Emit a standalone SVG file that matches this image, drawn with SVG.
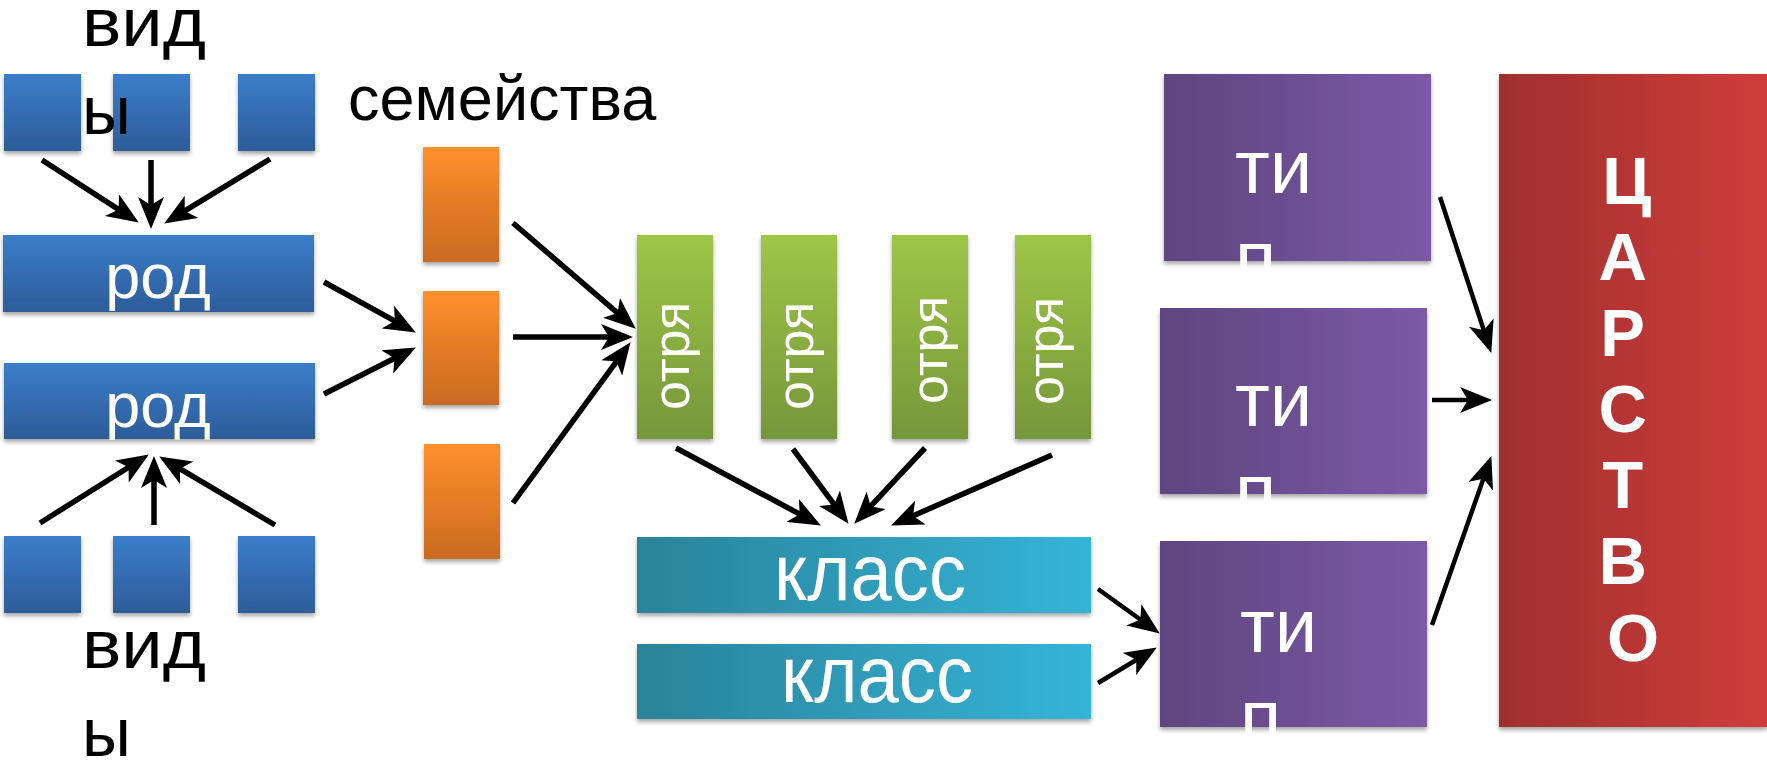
<svg xmlns="http://www.w3.org/2000/svg" width="1767" height="764" viewBox="0 0 1767 764">
<style>
.lbl{font-family:"Liberation Sans",Arial,sans-serif;fill:#000}
.wt{font-family:"Liberation Sans",Arial,sans-serif;fill:#fff}
.bold{font-weight:bold}
.conn line{stroke:#000;stroke-width:5.5;marker-end:url(#ah)}
.conn line.thin{stroke-width:4.5}
.box{filter:url(#sh)}
</style>
<defs>
<filter id="sh" x="-10%" y="-10%" width="120%" height="130%">
<feDropShadow dx="0" dy="3" stdDeviation="2" flood-color="#000" flood-opacity="0.35"/>
</filter>
<linearGradient id="gBlue" x1="0" y1="0" x2="0" y2="1"><stop offset="0" stop-color="#3b7dca"/><stop offset="1" stop-color="#2d5c99"/></linearGradient>
<linearGradient id="gOrange" x1="0" y1="0" x2="0" y2="1"><stop offset="0" stop-color="#ff8f2b"/><stop offset="1" stop-color="#c96a22"/></linearGradient>
<linearGradient id="gGreen" x1="0" y1="0" x2="0" y2="1"><stop offset="0" stop-color="#9ec647"/><stop offset="1" stop-color="#76963a"/></linearGradient>
<linearGradient id="gTeal" x1="0" y1="0" x2="1" y2="0"><stop offset="0" stop-color="#2a8399"/><stop offset="1" stop-color="#35b4d8"/></linearGradient>
<linearGradient id="gPurple" x1="0" y1="0" x2="1" y2="0"><stop offset="0" stop-color="#5e4580"/><stop offset="1" stop-color="#7b5aa6"/></linearGradient>
<linearGradient id="gRed" x1="0" y1="0" x2="1" y2="0"><stop offset="0" stop-color="#9f2f2f"/><stop offset="1" stop-color="#cf3d3a"/></linearGradient>
<marker id="ah" markerUnits="userSpaceOnUse" markerWidth="32" markerHeight="26" viewBox="0 0 32 26" refX="17" refY="13" orient="auto">
<path d="M0,0 L32,13 L0,26 L8,13 z" fill="#000"/>
</marker>
</defs>

<g id="species-top">
<rect class="box" x="4" y="74" width="77" height="77" fill="url(#gBlue)"/>
<rect class="box" x="113" y="74" width="77" height="77" fill="url(#gBlue)"/>
<rect class="box" x="238" y="74" width="77" height="77" fill="url(#gBlue)"/>
</g>
<g id="label-species-top">
<text class="lbl" x="82" y="46" font-size="68" textLength="124" lengthAdjust="spacingAndGlyphs">вид</text>
<text class="lbl" x="82" y="134" font-size="68">ы</text>
</g>
<g id="genus-1">
<rect class="box" x="3" y="235" width="311" height="77" fill="url(#gBlue)"/>
<text class="wt" x="158" y="298" font-size="63" text-anchor="middle">род</text>
</g>
<g id="genus-2">
<rect class="box" x="4" y="363" width="311" height="76" fill="url(#gBlue)"/>
<text class="wt" x="158" y="427" font-size="63" text-anchor="middle">род</text>
</g>
<g id="species-bottom">
<rect class="box" x="4" y="536" width="77" height="77" fill="url(#gBlue)"/>
<rect class="box" x="113" y="536" width="77" height="77" fill="url(#gBlue)"/>
<rect class="box" x="238" y="536" width="77" height="77" fill="url(#gBlue)"/>
</g>
<g id="label-species-bottom">
<text class="lbl" x="82" y="668" font-size="68" textLength="124" lengthAdjust="spacingAndGlyphs">вид</text>
<text class="lbl" x="82" y="756" font-size="68">ы</text>
</g>

<g id="label-families">
<text class="lbl" x="348" y="120" font-size="63">семейства</text>
</g>
<g id="family-1"><rect class="box" x="423" y="147" width="76" height="115" fill="url(#gOrange)"/></g>
<g id="family-2"><rect class="box" x="423" y="291" width="76" height="114" fill="url(#gOrange)"/></g>
<g id="family-3"><rect class="box" x="424" y="444" width="76" height="115" fill="url(#gOrange)"/></g>

<g id="order-1">
<rect class="box" x="637" y="235" width="76" height="204" fill="url(#gGreen)"/>
<text class="wt" font-size="52" text-anchor="middle" transform="translate(689,356) rotate(-90)">отря</text>
</g>
<g id="order-2">
<rect class="box" x="761" y="235" width="76" height="204" fill="url(#gGreen)"/>
<text class="wt" font-size="52" text-anchor="middle" transform="translate(813,356) rotate(-90)">отря</text>
</g>
<g id="order-3">
<rect class="box" x="892" y="235" width="76" height="204" fill="url(#gGreen)"/>
<text class="wt" font-size="52" text-anchor="middle" transform="translate(947,350) rotate(-90)">отря</text>
</g>
<g id="order-4">
<rect class="box" x="1015" y="235" width="76" height="204" fill="url(#gGreen)"/>
<text class="wt" font-size="52" text-anchor="middle" transform="translate(1063,351) rotate(-90)">отря</text>
</g>

<g id="class-1">
<rect class="box" x="637" y="537" width="454" height="76" fill="url(#gTeal)"/>
<text class="wt" x="870" y="600" font-size="80" text-anchor="middle" textLength="192" lengthAdjust="spacingAndGlyphs">класс</text>
</g>
<g id="class-2">
<rect class="box" x="637" y="644" width="454" height="75" fill="url(#gTeal)"/>
<text class="wt" x="877" y="702" font-size="80" text-anchor="middle" textLength="192" lengthAdjust="spacingAndGlyphs">класс</text>
</g>

<g id="phylum-1">
<rect class="box" x="1164" y="74" width="267" height="187" fill="url(#gPurple)"/>
<text class="wt" x="1235" y="193" font-size="76">ти</text>
<text class="wt" x="1235" y="284" font-size="76">п</text>
</g>
<g id="phylum-2">
<rect class="box" x="1160" y="308" width="267" height="186" fill="url(#gPurple)"/>
<text class="wt" x="1235" y="426" font-size="76">ти</text>
<text class="wt" x="1235" y="517" font-size="76">п</text>
</g>
<g id="phylum-3">
<rect class="box" x="1160" y="541" width="267" height="186" fill="url(#gPurple)"/>
<text class="wt" x="1240" y="652" font-size="76">ти</text>
<text class="wt" x="1240" y="743" font-size="76">п</text>
</g>

<g id="kingdom">
<rect class="box" x="1499" y="74" width="268" height="653" fill="url(#gRed)"/>
<text class="wt bold" font-size="67" text-anchor="middle">
<tspan x="1636" y="204">Ц</tspan>
<tspan x="1632" y="280">А</tspan>
<tspan x="1632" y="356">Р</tspan>
<tspan x="1632" y="432">С</tspan>
<tspan x="1632" y="508">Т</tspan>
<tspan x="1632" y="584">В</tspan>
<tspan x="1633" y="661">О</tspan>
</text>
</g>

<g id="connectors" class="conn">
<line x1="42" y1="160" x2="126.2" y2="214.4"/>
<line x1="151" y1="160" x2="151" y2="214"/>
<line x1="270" y1="159" x2="177" y2="215.7"/>
<line x1="40" y1="523" x2="136.2" y2="462.5"/>
<line x1="154" y1="525" x2="154" y2="471"/>
<line x1="275" y1="525" x2="172.1" y2="464.1"/>
<line x1="324" y1="282" x2="402.7" y2="325.3"/>
<line x1="324" y1="394" x2="402.5" y2="354.3"/>
<line x1="513" y1="223" x2="624.4" y2="318.9"/>
<line x1="513" y1="337" x2="618" y2="337"/>
<line x1="513" y1="503" x2="621.7" y2="354.3"/>
<line x1="676" y1="448" x2="807.7" y2="518.4"/>
<line x1="793" y1="449" x2="839.6" y2="511.8"/>
<line x1="925" y1="448" x2="864.5" y2="512.8"/>
<line x1="1052" y1="455" x2="904.8" y2="519.4"/>
<line class="thin" x1="1098" y1="589" x2="1147.6" y2="624.8"/>
<line class="thin" x1="1098" y1="683" x2="1144" y2="655.2"/>
<line class="thin" x1="1440" y1="197" x2="1486.6" y2="338.7"/>
<line class="thin" x1="1432" y1="400" x2="1477" y2="400"/>
<line class="thin" x1="1432" y1="625" x2="1486.4" y2="470.2"/>
</g>
</svg>
